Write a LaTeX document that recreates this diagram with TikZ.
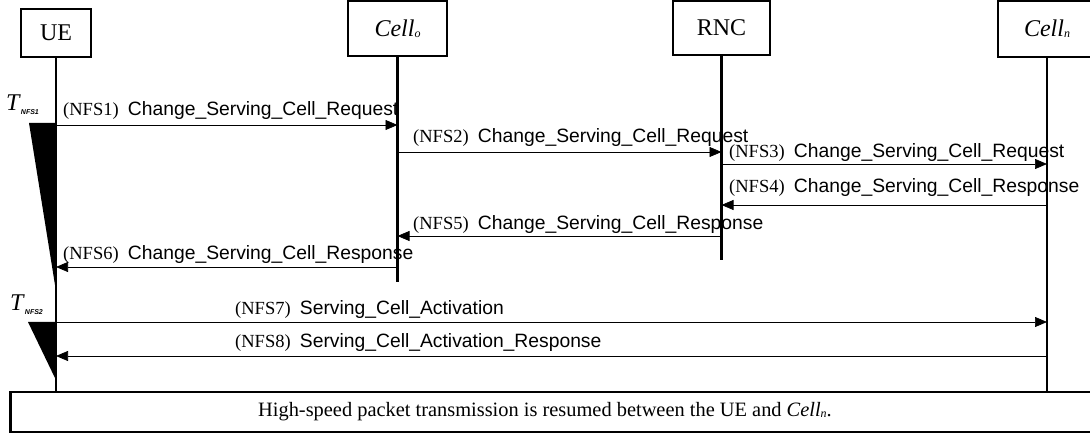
\documentclass[tikz,border=0pt]{standalone}
\usepackage{fontspec}
\setmainfont{Liberation Serif}
\setsansfont{Liberation Sans}
\usetikzlibrary{arrows.meta}
\newcommand{\cellname}[1]{\textit{Cell}{\fontsize{12}{12}\selectfont\raisebox{-1pt}{\textit{#1}}}}
\newcommand{\msgtext}[2]{(NFS#1)\ \ {\fontsize{19.3}{19.3}\selectfont\textsf{#2}}}
\newcommand{\tmrname}[1]{{\fontsize{24}{24}\selectfont\textit{T}}{\fontsize{7}{7}\selectfont\raisebox{-4pt}{\textsf{\textbf{\textit{NFS#1}}}}}}
\begin{document}
\begin{tikzpicture}[
    x=1pt,y=-1pt,
    entBox/.style={rectangle,draw=black,line width=2.5pt,fill=white,font=\fontsize{24}{24}\selectfont},
    lifeLn/.style={line width=2.8pt},
    msgArr/.style={-{Triangle[length=12pt,width=10pt]},line width=0.7pt},
    msgLbl/.style={anchor=base west,inner sep=0pt,font=\fontsize{18.5}{18.5}\selectfont},
]
\clip (0,0) rectangle (1090,435);
% entities
\node[entBox,minimum width=70,minimum height=48] (UE) at (56,33) {UE};
\node[entBox,minimum width=99,minimum height=55] (CO) at (397.5,28.5) {\cellname{o}};
\node[entBox,minimum width=97,minimum height=54] (RNC) at (721.5,28) {RNC};
\node[entBox,minimum width=98,minimum height=56] (CN) at (1047,29) {\cellname{n}};
% closing box
\node[draw=black,line width=2.5pt,minimum width=1092,minimum height=40,anchor=north west] (RES) at (9,391) {};
\node (RESt) at (545,411.5) {\fontsize{20.4}{20.4}\selectfont High-speed packet transmission is resumed between the UE and \cellname{n}.};
% life lines
\coordinate (UEe) at (56,391);
\coordinate (COe) at (397.5,282);
\coordinate (RNCe) at (721.5,260);
\coordinate (CNe) at (1047,391);
\draw[lifeLn] (UE.south) -- (UEe);
\draw[lifeLn] (CO.south) -- (COe);
\draw[lifeLn] (RNC.south) -- (RNCe);
\draw[lifeLn] (CN.south) -- (CNe);
% timers
\fill (29,123) -- (56,123) -- (55,285) -- cycle;
\fill (28,322) -- (56,322) -- (55,378) -- cycle;
\node[anchor=base west,inner sep=0pt] (T1) at (6,111) {\tmrname{1}};
\node[anchor=base west,inner sep=0pt] (T2) at (10,311) {\tmrname{2}};
% messages
\draw[msgArr] (UE |- 0,125) -- (CO |- 0,125);
\node[msgLbl] (M1) at (63,116) {\msgtext{1}{Change\_Serving\_Cell\_Request}};
\draw[msgArr] (CO |- 0,152) -- (RNC |- 0,152);
\node[msgLbl] (M2) at (413,143) {\msgtext{2}{Change\_Serving\_Cell\_Request}};
\draw[msgArr] (RNC |- 0,164) -- (CN |- 0,164);
\node[msgLbl] (M3) at (729,158) {\msgtext{3}{Change\_Serving\_Cell\_Request}};
\draw[msgArr] (CN |- 0,205) -- (RNC |- 0,205);
\node[msgLbl] (M4) at (729,193) {\msgtext{4}{Change\_Serving\_Cell\_Response}};
\draw[msgArr] (RNC |- 0,236) -- (CO |- 0,236);
\node[msgLbl] (M5) at (413,230) {\msgtext{5}{Change\_Serving\_Cell\_Response}};
\draw[msgArr] (CO |- 0,267) -- (UE |- 0,267);
\node[msgLbl] (M6) at (63,260) {\msgtext{6}{Change\_Serving\_Cell\_Response}};
\draw[msgArr] (UE |- 0,322) -- (CN |- 0,322);
\node[msgLbl] (M7) at (235,315) {\msgtext{7}{Serving\_Cell\_Activation}};
\draw[msgArr] (CN |- 0,356) -- (UE |- 0,356);
\node[msgLbl] (M8) at (235,348) {\msgtext{8}{Serving\_Cell\_Activation\_Response}};
\end{tikzpicture}
\end{document}
